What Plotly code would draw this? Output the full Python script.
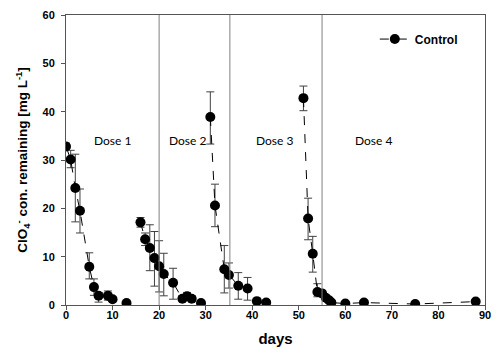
import plotly.graph_objects as go

# ---- data ----
days1 = [0, 1, 2, 3, 5, 6, 7, 9, 10, 13]
conc1 = [32.8, 30.1, 24.2, 19.5, 7.9, 3.7, 1.9, 1.9, 1.2, 0.4]
up1 = [0.7, 1.9, 7.0, 4.5, 2.9, 1.7, 0.7, 1.0, 0.5, 0.3]
dn1 = [0.7, 1.7, 7.0, 4.6, 2.5, 1.7, 1.3, 0.9, 0.5, 0.3]

days2 = [16, 17, 18, 19, 20, 21, 23, 25, 26, 27, 29]
conc2 = [17.1, 13.6, 11.8, 9.7, 8.0, 6.4, 4.6, 1.3, 1.8, 1.3, 0.4]
up2 = [1.0, 1.3, 4.8, 5.5, 5.3, 4.3, 3.0, 0.6, 0.8, 0.6, 0.3]
dn2 = [1.0, 1.3, 4.7, 5.8, 5.3, 4.5, 3.4, 0.6, 0.8, 0.6, 0.3]

days3 = [31, 32, 34, 35, 37, 39, 41, 43]
conc3 = [38.9, 20.6, 7.4, 6.2, 4.0, 3.4, 0.8, 0.5]
up3 = [5.2, 4.4, 4.9, 2.5, 2.7, 2.3, 0.4, 0.3]
dn3 = [5.6, 4.4, 4.9, 2.7, 2.8, 2.4, 0.4, 0.3]

days4 = [51, 52, 53, 54, 55, 55.8, 56.5, 57, 60, 64, 75, 88]
conc4 = [42.8, 17.9, 10.6, 2.7, 2.4, 1.5, 1.0, 0.5, 0.3, 0.5, 0.2, 0.7]
up4 = [2.5, 4.2, 3.6, 1.7, 0.6, 0.4, 0.3, 0.2, 0.2, 0.2, 0.2, 0.2]
dn4 = [2.6, 4.4, 3.8, 1.0, 0.6, 0.4, 0.3, 0.2, 0.2, 0.2, 0.2, 0.2]

dose_days = [20, 35.2, 55]
dose_labels = ["Dose 1", "Dose 2", "Dose 3", "Dose 4"]
dose_label_x = [10, 26, 44.7, 66]
dose_label_y = 34

x_ticks = [0, 10, 20, 30, 40, 50, 60, 70, 80, 90]
y_ticks = [0, 10, 20, 30, 40, 50, 60]

# ---- build combined series with gaps ----
xs, ys, eu, ed = [], [], [], []
for d, c, u, l in [(days1, conc1, up1, dn1), (days2, conc2, up2, dn2),
                   (days3, conc3, up3, dn3), (days4, conc4, up4, dn4)]:
    if xs:
        xs.append(None); ys.append(None); eu.append(0); ed.append(0)
    xs += d; ys += c; eu += u; ed += l

fig = go.Figure()
fig.add_trace(go.Scatter(
    x=xs, y=ys, mode="lines+markers", name="Control",
    connectgaps=False,
    line=dict(color="black", width=1, dash="dash"),
    marker=dict(color="black", size=10),
    error_y=dict(type="data", symmetric=False, array=eu, arrayminus=ed,
                 color="#404040", thickness=1, width=4),
))

for dd in dose_days:
    fig.add_shape(type="line", x0=dd, x1=dd, y0=0, y1=60, xref="x", yref="y",
                  line=dict(color="#808080", width=1))

for lab, lx in zip(dose_labels, dose_label_x):
    fig.add_annotation(x=lx, y=dose_label_y, text=lab, showarrow=False,
                       font=dict(family="Lato, Open Sans, sans-serif", size=12, color="black"))

axfont = dict(family="Arial, Liberation Sans, sans-serif", size=11, color="black", weight="bold")
fig.update_xaxes(range=[0, 90], tickvals=x_ticks, ticks="outside", ticklen=4,
                 tickcolor="#555", showline=True, linecolor="#555", linewidth=1,
                 mirror=True, showgrid=False, zeroline=False, tickfont=axfont,
                 ticklabeloverflow="allow", ticklabelstandoff=-4,
                 title=dict(text="days", font=dict(family="Arial, Liberation Sans, sans-serif",
                                                   size=15, color="black", weight="bold"),
                            standoff=13))
fig.update_yaxes(range=[0, 60], tickvals=y_ticks, ticks="outside", ticklen=4,
                 tickcolor="#555", showline=True, linecolor="#555", linewidth=1,
                 mirror=True, showgrid=False, zeroline=False, tickfont=axfont,
                 ticklabelstandoff=4, ticklabeloverflow="allow",
                 title=dict(text="ClO<sub>4</sub><sup>-</sup> con. remaining [mg L<sup>-1</sup>]",
                            font=dict(family="Arial, Liberation Sans, sans-serif",
                                      size=13.5, color="black", weight="bold"),
                            standoff=11))

fig.update_layout(
    width=500, height=360,
    margin=dict(l=66, r=11, t=9, b=55),
    plot_bgcolor="white", paper_bgcolor="white",
    showlegend=True,
    legend=dict(x=0.737, y=0.967, xanchor="left", yanchor="top",
                bgcolor="rgba(0,0,0,0)",
                font=dict(family="Arial, Liberation Sans, sans-serif", size=12,
                          color="black", weight="bold")),
)

# remove the browser's default 8px body margin so the figure sits at the page origin
fig.write_html("out.html", config={"displayModeBar": False},
               post_script="document.body.style.margin='0';")
